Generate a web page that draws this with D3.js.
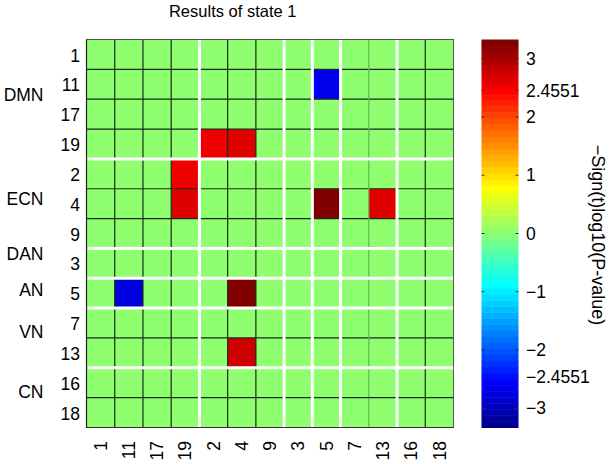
<!DOCTYPE html>
<html>
<head>
<meta charset="utf-8">
<script src="https://cdn.jsdelivr.net/npm/d3@7"></script>
<style>
  html, body { margin: 0; padding: 0; background: #fff; }
  svg { display: block; }
  text { font-family: "Liberation Sans", Arial, Helvetica, sans-serif; fill: #000; }
</style>
</head>
<body>
<svg id="chart" width="613" height="464"></svg>
<script>
// ---------- data ----------
const nodeLabels = ["1","11","17","19","2","4","9","3","5","7","13","16","18"];
const groupNames = ["DMN","ECN","DAN","AN","VN","CN"];
const groupSizes = [4, 3, 1, 1, 2, 2];
// label anchor (in row units) for each network name
const groupLabelRows = [1.86, 5.34, 7.19, 8.38, 9.79, 11.80];
const colorTickValues = [3, 2.4551, 2, 1, 0, -1, -2, -2.4551, -3];
const colorTickLabels = ["3","2.4551","2","1","0","\u22121","\u22122","\u22122.4551","\u22123"];
const colorLimit = 3.33;
const titleText = "Results of state 1";
const colorbarTitle = "\u2212Sign(t)log10(P-value)";
// rows/cols ordered as nodeLabels
const values = [
  [0,0,0,0,0,0,0,0,0,0,0,0,0],            // 1
  [0,0,0,0,0,0,0,0,-2.7,0,0,0,0],         // 11
  [0,0,0,0,0,0,0,0,0,0,0,0,0],            // 17
  [0,0,0,0,2.5,2.62,0,0,0,0,0,0,0],       // 19
  [0,0,0,2.5,0,0,0,0,0,0,0,0,0],          // 2
  [0,0,0,2.62,0,0,0,0,3.33,0,2.65,0,0],   // 4
  [0,0,0,0,0,0,0,0,0,0,0,0,0],            // 9
  [0,0,0,0,0,0,0,0,0,0,0,0,0],            // 3
  [0,-2.75,0,0,0,3.33,0,0,0,0,0,0,0],     // 5
  [0,0,0,0,0,0,0,0,0,0,0,0,0],            // 7
  [0,0,0,0,0,2.75,0,0,0,0,0,0,0],         // 13
  [0,0,0,0,0,0,0,0,0,0,0,0,0],            // 16
  [0,0,0,0,0,0,0,0,0,0,0,0,0]             // 18
];

// ---------- MATLAB jet(64) ----------
const M = 64;
function jetColor(i) { // i: 1..64
  let r = 0, g = 0, b = 0;
  if (i >= 25 && i <= 40) r = (i - 24) / 16; else if (i >= 41 && i <= 55) r = 1; else if (i >= 56) r = (72 - i) / 16;
  if (i >= 9 && i <= 24) g = (i - 8) / 16; else if (i >= 25 && i <= 39) g = 1; else if (i >= 40 && i <= 55) g = (56 - i) / 16;
  if (i <= 8) b = (i + 8) / 16; else if (i <= 23) b = 1; else if (i <= 39) b = (40 - i) / 16;
  return d3.rgb(Math.round(r * 255), Math.round(g * 255), Math.round(b * 255)).toString();
}
function valueColor(v) {
  let idx = Math.floor((v + colorLimit) / (2 * colorLimit) * M) + 1;
  idx = Math.max(1, Math.min(M, idx));
  return jetColor(idx);
}

// ---------- layout ----------
const svg = d3.select("#chart");
const n = nodeLabels.length;
const x = d3.scaleBand().domain(d3.range(n)).range([86.5, 453.5]);
const y = d3.scaleBand().domain(d3.range(n)).range([39.5, 427.5]);
const yCont = d3.scaleLinear().domain([0, n]).range([39.5, 427.5]);

// cells
const cells = [];
values.forEach((row, r) => row.forEach((v, c) => cells.push({r, c, v})));
svg.append("g").selectAll("rect").data(cells).join("rect")
  .attr("x", d => x(d.c)).attr("y", d => y(d.r))
  .attr("width", x.bandwidth() + 0.5).attr("height", y.bandwidth() + 0.5)
  .attr("fill", d => valueColor(d.v));

// boundaries
const groupEnds = d3.cumsum(groupSizes).slice(0, -1);
const isGroupEnd = k => groupEnds.includes(k);
const gl = svg.append("g");
const x0 = x.range()[0], x1 = x.range()[1], y0 = y.range()[0], y1 = y.range()[1];
const bx = k => x0 + k * x.step();
const by = k => y0 + k * y.step();
// thin black lines
for (let k = 1; k < n; k++) {
  if (isGroupEnd(k)) continue;
  gl.append("line").attr("x1", x0).attr("x2", x1).attr("y1", by(k)).attr("y2", by(k))
    .attr("stroke", "#1c2a18").attr("stroke-width", 1.2);
  gl.append("line").attr("y1", y0).attr("y2", y1).attr("x1", bx(k)).attr("x2", bx(k))
    .attr("stroke", k === 10 ? "#66b455" : "#1c2a18").attr("stroke-width", 1.2);
}
// frame
svg.append("rect").attr("x", x0).attr("y", y0).attr("width", x1 - x0).attr("height", y1 - y0)
  .attr("fill", "none").attr("stroke", "#555").attr("stroke-width", 1);
// white group separators
groupEnds.forEach(k => {
  gl.append("line").attr("x1", x0 + 1).attr("x2", x1 - 0.5).attr("y1", by(k)).attr("y2", by(k))
    .attr("stroke", "#fff").attr("stroke-width", 3);
  gl.append("line").attr("y1", y0).attr("y2", y1 - 0.5).attr("x1", bx(k)).attr("x2", bx(k))
    .attr("stroke", "#fff").attr("stroke-width", 3);
});
// left and bottom axis lines
svg.append("line").attr("x1", x0).attr("x2", x0).attr("y1", y0).attr("y2", y1).attr("stroke", "#222").attr("stroke-width", 1.2);
svg.append("line").attr("x1", x0).attr("x2", x1).attr("y1", y1).attr("y2", y1).attr("stroke", "#333").attr("stroke-width", 1);

// y tick labels
svg.append("g").selectAll("text").data(nodeLabels).join("text")
  .attr("x", 80).attr("y", (d, i) => y(i) + y.bandwidth() / 2 + 1)
  .attr("dy", "0.35em").attr("text-anchor", "end")
  .style("font-size", "17.5px").text(d => d);

// x tick labels (rotated)
svg.append("g").selectAll("text").data(nodeLabels).join("text")
  .attr("transform", (d, i) => `translate(${x(i) + x.bandwidth() / 2},441) rotate(-90)`)
  .attr("dy", "0.35em").attr("text-anchor", "end")
  .style("font-size", "17.5px").text(d => d);

// group labels
svg.append("g").selectAll("text").data(groupNames).join("text")
  .attr("x", 43.5).attr("y", (d, i) => yCont(groupLabelRows[i]))
  .attr("dy", "0.35em").attr("text-anchor", "end")
  .style("font-size", "17.5px").text(d => d);

// title
svg.append("text").attr("x", 232.7).attr("y", 16.5).attr("text-anchor", "middle")
  .style("font-size", "16.5px").text(titleText);

// ---------- colorbar ----------
const cbX = 481.5, cbW = 37;
const cScale = d3.scaleLinear().domain([-colorLimit, colorLimit]).range([427.5, 39.5]);
const step = 2 * colorLimit / M;
svg.append("g").selectAll("rect").data(d3.range(M)).join("rect")
  .attr("x", cbX).attr("width", cbW)
  .attr("y", i => cScale(-colorLimit + (i + 1) * step))
  .attr("height", i => cScale(-colorLimit + i * step) - cScale(-colorLimit + (i + 1) * step) + 0.5)
  .attr("fill", i => jetColor(i + 1));
const cbTicks = svg.append("g");
colorTickValues.forEach((v, i) => {
  const ty = cScale(v);
  cbTicks.append("line").attr("x1", cbX).attr("x2", cbX + 3).attr("y1", ty).attr("y2", ty).attr("stroke", "#333");
  cbTicks.append("line").attr("x1", cbX + cbW - 3).attr("x2", cbX + cbW).attr("y1", ty).attr("y2", ty).attr("stroke", "#333");
  cbTicks.append("text").attr("x", 526).attr("y", ty).attr("dy", "0.35em")
    .style("font-size", "17.5px").text(colorTickLabels[i]);
});
svg.append("text").attr("transform", "translate(598,235) rotate(90)")
  .attr("text-anchor", "middle").attr("dy", "0.35em")
  .style("font-size", "18px").text(colorbarTitle);
</script>
</body>
</html>
